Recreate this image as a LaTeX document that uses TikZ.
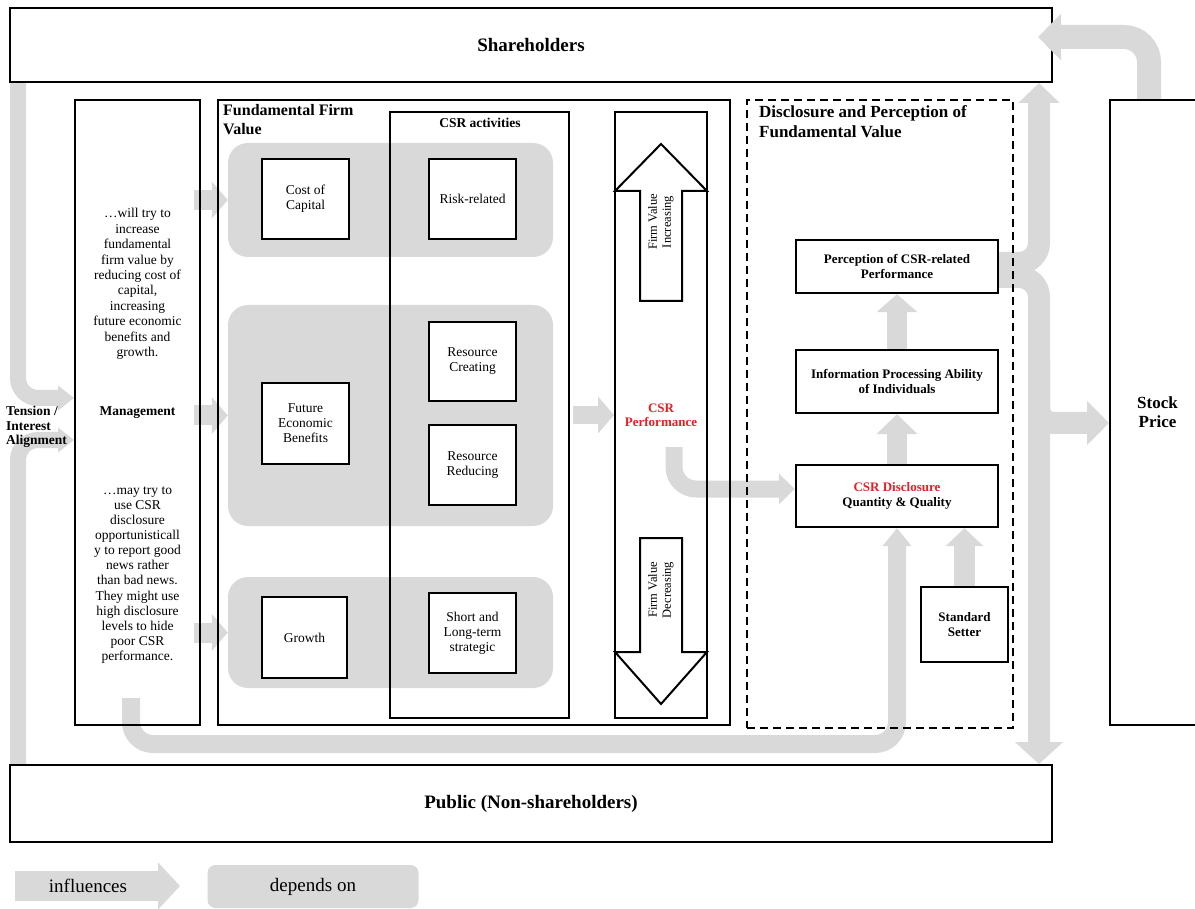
\documentclass[tikz,border=0pt]{standalone}
\usepackage{fontspec}
\setmainfont{Liberation Serif}
\usetikzlibrary{arrows.meta,calc}
\definecolor{lg}{RGB}{217,217,217}
\definecolor{redt}{RGB}{228,32,40}
\newcommand\myfs[2]{\fontsize{#1}{#2}\selectfont}
\pgfdeclarelayer{bg}
\pgfdeclarelayer{arr}
\pgfdeclarelayer{front}
\pgfsetlayers{bg,arr,main,front}
\tikzset{
 wh/.style 2 args={minimum width=#1pt, minimum height=#2pt},
 cbox/.style={draw, line width=2pt, inner sep=0pt, align=center},
 ibox/.style={draw, line width=2.4pt, fill=white, inner sep=0pt, align=center, font={\myfs{13.5}{15}}},
 gbox/.style={fill=lg, rounded corners=20pt, inner sep=0pt},
 infl/.style args={#1/#2/#3}{draw=lg, line width=#1pt, -{Triangle[width=#2pt,length=#3pt]}},
 hollow/.style={draw=black, line width=2pt, fill=white, line join=miter},
 txt/.style={inner sep=0pt, align=center}
}
\begin{document}
\begin{tikzpicture}[x=1pt,y=-1pt]
\useasboundingbox (0,0) rectangle (1195,909);
\begin{pgfonlayer}{bg}
\fill[white] (0,0) rectangle (1195,909);
\node[gbox, wh={325}{114}] (g1) at (390.5,200) {};
\node[gbox, wh={325}{221}] (g2) at (390.5,415.5) {};
\node[gbox, wh={325}{111}] (g3) at (390.5,632.5) {};
\node[gbox, wh={211}{43}, rounded corners=8pt, font={\myfs{19}{22}}] (leg2) at (313,886.5) {depends on};
\end{pgfonlayer}

% container boxes
\node[cbox, wh={1042}{74}, font={\myfs{19}{22}\bfseries}] (sh) at (531,45) {Shareholders};
\node[cbox, wh={1042}{77}, font={\myfs{19}{22}\bfseries}] (pub) at (531,803.5) {Public (Non-shareholders)};
\node[cbox, wh={95}{625}, font={\myfs{17}{19}\bfseries}] (stock) at (1157.5,412.5) {Stock\\Price};
\node[cbox, wh={125}{625}, font={\myfs{13.5}{15}\bfseries}] (mgmt) at (137.5,412.5) {Management};
\node[cbox, wh={512}{625}] (fund) at (474,412.5) {};
\node[cbox, wh={179}{606}] (csract) at (479.5,415) {};
\node[cbox, wh={92}{606}, font={\myfs{13}{14}\bfseries}, text=redt] (perf) at (661,415) {CSR\\Performance};
\node[cbox, dash pattern=on 8pt off 5pt, wh={266}{628}] (disc) at (880,414) {};

% inner boxes
\node[ibox, wh={87}{80}] (cost) at (305.5,199) {Cost of\\Capital};
\node[ibox, wh={87}{80}] (risk) at (472.5,199) {Risk-related};
\node[ibox, wh={87}{81}] (feb) at (305.5,423.5) {Future\\Economic\\Benefits};
\node[ibox, wh={87}{79}] (rcre) at (472.5,361.5) {Resource\\Creating};
\node[ibox, wh={87}{80}] (rred) at (472.5,465) {Resource\\Reducing};
\node[ibox, wh={85}{81}] (growth) at (304.5,637.5) {Growth};
\node[ibox, wh={87}{80}] (slt) at (472.5,633) {Short and\\Long-term\\strategic};
\node[ibox, wh={202}{53}, font={\myfs{13}{15}\bfseries}] (perc) at (897,266.5) {Perception of CSR-related\\Performance};
\node[ibox, wh={202}{63}, font={\myfs{13}{15}\bfseries}] (info) at (897,381.5) {Information Processing Ability\\of Individuals};
\node[ibox, wh={202}{62}, font={\myfs{13}{15}\bfseries}] (cdisc) at (897,496) {\textcolor{redt}{CSR Disclosure}\\Quantity \& Quality};
\node[ibox, wh={87}{75}, font={\myfs{13}{15}\bfseries}] (std) at (964.5,624.5) {Standard\\Setter};

% hollow firm value arrows
\begin{scope}[shift={(perf.north)}]
\draw[hollow] (-21,190) -- (-21,80) -- (-46,80) -- (0,33) -- (46,80) -- (21,80) -- (21,190) -- cycle;
\draw[hollow] (-21,427) -- (-21,541) -- (-46,541) -- (0,593) -- (46,541) -- (21,541) -- (21,427) -- cycle;
\end{scope}
\node[rotate=90, txt, font={\myfs{12.5}{14}}] (fvi) at (661,222) {Firm Value\\Increasing};
\node[rotate=90, txt, font={\myfs{12.5}{14}}] (fvd) at (661,590) {Firm Value\\Decreasing};

% texts
\node[txt, font={\myfs{13.5}{15.4}}] (mt1) at (137.5,284) {…will try to\\increase\\fundamental\\firm value by\\reducing cost of\\capital,\\increasing\\future economic\\benefits and\\growth.};
\node[txt, font={\myfs{13.5}{15.1}}] (mt2) at (137.5,575) {…may try to\\use CSR\\disclosure\\opportunisticall\\y to report good\\news rather\\than bad news.\\They might use\\high disclosure\\levels to hide\\poor CSR\\performance.};
\node[txt, align=left, anchor=west, font={\myfs{13.5}{14.5}\bfseries}] (tension) at (6,427) {Tension /\\Interest\\Alignment};
\node[txt, align=left, anchor=north west, font={\myfs{16}{19}\bfseries}] (ftitle) at (223,104) {Fundamental Firm\\Value};
\node[txt, font={\myfs{13.5}{15}\bfseries}] (ctitle) at (480,123) {CSR activities};
\node[txt, align=left, anchor=north west, font={\myfs{17}{20}\bfseries}] (dtitle) at (759,105) {Disclosure and Perception of\\Fundamental Value};

% influence arrows
\begin{pgfonlayer}{arr}
\coordinate (a1s) at ($(sh.south west)+(9,0)$);
\draw[infl={16/24/16}, rounded corners=20pt] (a1s) |- ($(mgmt.west)+(0,-14.5)$);
\coordinate (a2s) at ($(pub.north west)+(9,0)$);
\draw[infl={16/24/16}, rounded corners=20pt] (a2s) |- ($(mgmt.west)+(0,27.5)$);
\coordinate (mE) at ($(mgmt.east)+(-7,0)$);
\draw[infl={20/36/16}] (mE |- g1.west) -- (g1.west);
\draw[infl={20/36/16}] (mE |- g2.west) -- (g2.west);
\draw[infl={20/36/16}] (mE |- g3.west) -- (g3.west);
\draw[infl={18/36/16}] ($(csract.east)+(3,0)$) -- (perf.west);
\coordinate (a7s) at ($(perf.center)+(13,32)$);
\draw[infl={17/30/16}, rounded corners=22pt] (a7s) |- ($(cdisc.west)+(0,-7)$);
\coordinate (a8s) at ($(mgmt.south)+(-6.5,-28)$);
\draw[infl={18/28/18}, rounded corners=22pt] (a8s) -- ++(0,46) -| (cdisc.south);
\draw[infl={20/40/20}] (cdisc.north) -- (info.south);
\draw[infl={20/40/18}] (info.north) -- (perc.south);
\draw[infl={21/37/18}] (std.north) -- (std.north |- cdisc.south);
\coordinate (bus) at (1039,270);
\draw[infl={22/40/20}, rounded corners=20pt] ($(perc.east)+(0,-3.5)$) -| (bus |- sh.south);
\draw[infl={22/47/22}, rounded corners=20pt] ($(perc.east)+(0,10.5)$) -| (bus |- pub.north);
\coordinate (bs) at (1039,423);
\draw[infl={22/43/22}, rounded corners=15pt] ($(bs)+(0,-60)$) -- (bs) -- (stock.west |- bs);
\coordinate (l1) at (15,886);
\draw[infl={30/46/22}] (l1) -- ++(165,0);
\end{pgfonlayer}
\node[txt, font={\myfs{19}{22}}] (leg1) at (88,886) {influences};

\begin{pgfonlayer}{front}
\draw[infl={24/45/23}, rounded corners=25pt] ($(stock.north)+(-8.5,0)$) |- ($(sh.east)+(-15,-8)$);
\end{pgfonlayer}
\end{tikzpicture}
\end{document}
